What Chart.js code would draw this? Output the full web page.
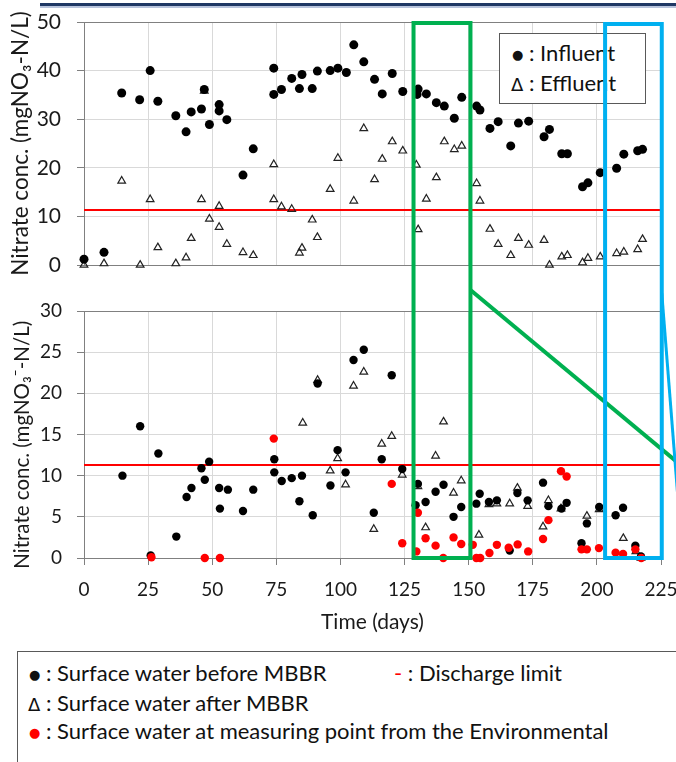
<!DOCTYPE html>
<html>
<head>
<meta charset="utf-8">
<script src="https://cdn.jsdelivr.net/npm/chart.js@4.4.1/dist/chart.umd.min.js"></script>
<style>
  html, body { margin:0; padding:0; background:#fff; }
  body { width:676px; height:762px; overflow:hidden; position:relative; font-family: Lato, 'DejaVu Sans', sans-serif; color:#111; }
  #hdr { position:absolute; left:40px; top:3px; width:636px; height:3px; background:#1f3864; border-bottom:2px solid #b8c4dc; }
  #topCanvas { position:absolute; left:0; top:0; z-index:1; }
  #botCanvas { position:absolute; left:0; top:290px; z-index:1; }
  #overlay { position:absolute; left:0; top:0; z-index:5; pointer-events:none; }
  #legTop { position:absolute; left:499px; top:33px; width:147px; height:71px; box-sizing:border-box; border:1px solid #595959; background:#fff; z-index:2; }
  #legBot { position:absolute; left:17px; top:651px; width:700px; height:150px; box-sizing:border-box; border:1px solid #595959; background:#fff; z-index:2; }
  .ln { position:absolute; white-space:pre; line-height:30px; height:30px; }
  .bl { font-family:'DejaVu Sans', sans-serif; font-size:13px; vertical-align:2px; }
  .tri { font-family:'DejaVu Sans', sans-serif; }
  .red { color:#ff0000; }
</style>
</head>
<body>
<div id="hdr"></div>
<canvas id="topCanvas" width="676" height="290"></canvas>
<canvas id="botCanvas" width="676" height="350"></canvas>
<div id="legTop">
  <div class="ln" style="left:12px; top:4px; font-size:22px;"><span class="bl">●</span> : Influent</div>
  <div class="ln" style="left:11px; top:34px; font-size:22px;"><span class="tri" style="font-size:18px;">Δ</span> : Effluent</div>
</div>
<div id="legBot">
  <div class="ln" style="left:11px; top:6px; font-size:22px;"><span class="bl">●</span> : Surface water before MBBR</div>
  <div class="ln" style="left:376px; top:6px; font-size:22px;"><span class="red">-</span> : Discharge limit</div>
  <div class="ln" style="left:10px; top:36px; font-size:22px;"><span class="tri" style="font-size:18px;">Δ</span> : Surface water after MBBR</div>
  <div class="ln" style="left:11px; top:64px; font-size:22px;"><span class="bl red">●</span> : Surface water at measuring point from the Environmental</div>
</div>
<canvas id="overlay" width="676" height="762"></canvas>
<script>
// ---------- DATA ----------
const X_TICKS_STEP = 25;
const X_MIN = 0, X_MAX = 225;
const LIMIT = 11.3; // discharge limit (mgNO3-N/L)

// Top panel: influent / effluent
const INF_DAY = [0,7.8,14.7,21.7,25.8,28.8,35.8,39.8,41.8,45.8,46.9,48.9,52.7,52.7,55.7,62,66,74,74,77,81,84,85,89,91,96,99,102.3,105.2,109.1,113.3,116.3,120.2,124.3,129.9,130.3,133.5,137.4,140.5,144.4,147.3,153.1,154.4,158.3,161.5,166.4,169.4,173.4,179.4,181.5,186.3,188.5,194.4,196.5,201.3,207.7,210.5,215.9,217.8];
const INF_VAL = [1.2,2.6,35.4,34.0,40.0,33.7,30.7,27.4,31.5,32.1,36.1,28.9,33.0,31.7,29.9,18.5,23.9,40.5,35.1,36.1,38.4,36.3,39.2,36.3,39.9,40.0,40.5,39.6,45.3,41.8,38.2,35.2,39.4,35.7,35.1,36.2,35.2,33.4,32.7,30.2,34.5,32.7,31.9,28.1,29.5,24.5,29.2,29.6,26.4,27.9,22.9,22.9,16.1,16.9,19.0,19.9,22.8,23.5,23.8];
const EFF_DAY = [0,7.8,14.7,21.9,25.8,28.8,35.8,39.8,41.8,45.8,46.9,48.9,52.7,52.7,55.7,62,66,74,74,77,81,84,85,89,91,96,99,105.2,109.1,113.3,116.3,120.2,124.3,129.6,130.3,133.5,137.4,140.5,144.4,147.3,153.1,154.4,158.3,161.5,166.4,169.4,173.4,179.4,181.5,186.3,188.5,194.4,196.5,201.3,207.7,210.5,215.9,217.8];
const EFF_VAL = [0,0.3,17.3,0,13.5,3.6,0.3,1.5,5.5,13.5,35.8,9.5,12.1,7.8,4.3,2.6,2.0,20.7,13.5,12.0,11.5,2.5,3.5,9.3,5.7,15.6,22.0,13.2,28.1,17.6,21.8,25.4,23.5,20.6,7.3,13.6,18.0,25.4,23.8,24.5,16.8,13.2,7.4,4.3,2.0,5.5,4.1,5.1,0,1.7,2.0,0.5,1.4,1.7,2.4,2.7,3.2,5.3];

// Bottom panel: surface water before / after MBBR, and environmental measuring point
const BEF_DAY = [15,21.9,26,29,36,40,41.9,45.8,47.1,48.8,52.7,53,56.1,62,66,74.2,74.2,77.1,81,84,85,89.2,91.1,96.1,98.9,102,105.1,109.1,113,116.1,120,124.1,129.3,130.2,133.2,137.1,140.2,144.1,147.1,153,154.3,157.9,161,166,169,173,179,181.1,186.2,188.2,194,196.1,200.9,207.3,210.2,215,217.2];
const BEF_VAL = [10.0,16.0,0.3,12.7,2.6,7.4,8.5,10.9,9.5,11.7,8.5,6.0,8.3,5.7,8.3,12.0,10.4,9.35,9.7,6.9,10.0,5.2,21.2,8.8,13.1,10.4,24.05,25.3,5.5,12.0,22.2,10.8,6.4,9.0,6.8,8.05,8.9,5.0,6.2,6.6,7.8,6.8,7.0,0.9,7.9,7.0,9.15,6.3,6.0,6.7,1.8,4.2,6.2,5.2,6.1,1.5,0.2];
const AFT_DAY = [85.3,91.1,96,98.9,102,105.1,109.1,113,116.1,120,124.1,130.2,133.2,137.1,140.2,144.1,147.1,154,157.9,161,166,169,173,179,181.1,186,196.1,200.9,210.3,215.2,217.2];
const AFT_VAL = [16.4,21.6,10.6,12.1,8.9,20.9,22.6,3.5,13.85,14.8,10.1,8.7,3.7,12.4,16.55,7.9,9.4,2.8,6.5,6.6,6.6,8.5,6.3,3.8,7.0,6.0,5.1,5.9,2.4,0.8,0];
const ENV_DAY = [26.3,47.1,53,74,120,124.1,129.6,130.2,133.2,137.1,140.1,144.1,147.1,151.6,153,154.5,158.1,161,165.6,169.1,173.2,179,181.1,186,188.2,194,196.1,200.8,207.3,210.2,215,217.3];
const ENV_VAL = [0.1,0,0,14.5,9.0,1.8,0.8,5.5,2.4,1.5,0,2.5,1.7,1.6,0,0,0.6,1.6,1.25,1.65,0.8,2.3,4.6,10.55,9.9,1.05,1.05,1.2,0.65,0.5,1.05,0];

// Highlighted periods (days)
const GREEN_SPAN = [128.5, 150.7];
const BLUE_SPAN = [203.2, 225.3];

// ---------- CHARTS ----------
Chart.defaults.font.family = "Lato, 'DejaVu Sans', sans-serif";
Chart.defaults.color = '#1a1a1a';
const AXIS = '#808080', GRID = '#d9d9d9';
const pts = (xs, ys) => xs.map((x, i) => ({ x: x, y: ys[i] }));
const limitLine = () => ({ type:'line', label:'Discharge limit', data:[{x:X_MIN,y:LIMIT},{x:X_MAX,y:LIMIT}], borderColor:'#ff0000', borderWidth:2, pointRadius:0, clip:false, order:10 });

const topChart = new Chart(document.getElementById('topCanvas'), {
  type:'scatter',
  data:{ datasets:[
    { label:'Influent', data:pts(INF_DAY, INF_VAL), pointStyle:'circle', pointRadius:4.5, backgroundColor:'#000', borderColor:'#000', borderWidth:0, clip:false, order:1 },
    { label:'Effluent', data:pts(EFF_DAY, EFF_VAL), pointStyle:'triangle', pointRadius:4.4, backgroundColor:'rgba(255,255,255,0)', borderColor:'#222', borderWidth:1.2, clip:false, order:2 },
    limitLine()
  ]},
  options:{
    responsive:false, animation:false, events:[],
    layout:{ padding:{ top:22, right:15, bottom:0, left:0 } },
    plugins:{ legend:{display:false}, tooltip:{enabled:false} },
    scales:{
      x:{ type:'linear', min:X_MIN, max:X_MAX,
          ticks:{ display:false, stepSize:X_TICKS_STEP },
          grid:{ color:c => (c.tick && c.tick.value === 0) ? AXIS : GRID, drawTicks:false },
          border:{ color:AXIS, width:1 },
          afterFit(s){ s.height = 25; s.paddingLeft = 0; s.paddingRight = 0; } },
      y:{ min:0, max:50,
          ticks:{ stepSize:10, padding:16, font:{size:21}, color:'#1a1a1a' },
          grid:{ color:c => (c.tick && (c.tick.value === 50 || c.tick.value === 0)) ? AXIS : GRID, tickColor:AXIS, tickLength:7 },
          border:{ color:AXIS, width:1 },
          title:{ display:true, text:'Nitrate conc. (mgNO₃-N/L)', font:{size:22.5}, color:'#1a1a1a', padding:{top:7, bottom:0} },
          afterFit(s){ s.width = 84; s.paddingTop = 0; s.paddingBottom = 0; } }
    }
  }
});

const botChart = new Chart(document.getElementById('botCanvas'), {
  type:'scatter',
  data:{ datasets:[
    { label:'Surface water at measuring point from the Environmental', data:pts(ENV_DAY, ENV_VAL), pointStyle:'circle', pointRadius:4.2, backgroundColor:'#ff0000', borderColor:'#ff0000', borderWidth:0, clip:false, order:0 },
    { label:'Surface water before MBBR', data:pts(BEF_DAY, BEF_VAL), pointStyle:'circle', pointRadius:4.2, backgroundColor:'#000', borderColor:'#000', borderWidth:0, clip:false, order:1 },
    { label:'Surface water after MBBR', data:pts(AFT_DAY, AFT_VAL), pointStyle:'triangle', pointRadius:4.4, backgroundColor:'rgba(255,255,255,0)', borderColor:'#222', borderWidth:1.2, clip:false, order:2 },
    limitLine()
  ]},
  options:{
    responsive:false, animation:false, events:[],
    layout:{ padding:{ top:21, right:15, bottom:0, left:0 } },
    plugins:{ legend:{display:false}, tooltip:{enabled:false} },
    scales:{
      x:{ type:'linear', min:X_MIN, max:X_MAX,
          ticks:{ stepSize:X_TICKS_STEP, padding:13, font:{size:19}, color:'#1a1a1a', maxRotation:0 },
          grid:{ color:c => (c.tick && c.tick.value === 0) ? AXIS : GRID, tickColor:AXIS, tickLength:7 },
          border:{ color:AXIS, width:1 },
          title:{ display:true, text:'Time (days)', font:{size:21}, color:'#1a1a1a', padding:{top:0, bottom:5} },
          afterFit(s){ s.height = 82; s.paddingLeft = 0; s.paddingRight = 0; } },
      y:{ min:0, max:30,
          ticks:{ stepSize:5, padding:15, font:{size:19}, color:'#1a1a1a' },
          grid:{ color:c => (c.tick && (c.tick.value === 30 || c.tick.value === 0)) ? AXIS : GRID, tickColor:AXIS, tickLength:7 },
          border:{ color:AXIS, width:1 },
          title:{ display:true, text:'Nitrate conc. (mgNO₃⁻-N/L)\u2002\u2002', font:{size:20.5}, color:'#1a1a1a', padding:{top:10, bottom:0} },
          afterFit(s){ s.width = 84; s.paddingTop = 0; s.paddingBottom = 0; } }
    }
  }
});

// ---------- OVERLAY: highlighted periods and connector lines ----------
(function drawOverlay(){
  const ctx = document.getElementById('overlay').getContext('2d');
  const botTop = 290;
  const xs = topChart.scales.x;
  const top = topChart.chartArea.top;
  const bottom = botTop + botChart.chartArea.bottom;
  function box(span, color, dy){
    const x1 = xs.getPixelForValue(span[0]), x2 = xs.getPixelForValue(span[1]);
    ctx.strokeStyle = color; ctx.lineWidth = 4;
    ctx.strokeRect(x1, top + dy, x2 - x1, bottom - top - dy);
    return x2;
  }
  function connector(x0, y0, slope, color, w){
    ctx.strokeStyle = color; ctx.lineWidth = w;
    ctx.beginPath(); ctx.moveTo(x0, y0); ctx.lineTo(700, y0 + slope * (700 - x0)); ctx.stroke();
  }
  ctx.lineJoin = 'miter';
  const gx = box(GREEN_SPAN, '#00b050', 1);
  connector(gx, botTop, 0.833, '#00b050', 4);
  const bx = box(BLUE_SPAN, '#00b0f0', 2);
  connector(bx, botTop + 3, 12.7, '#00b0f0', 3);
})();
</script>
</body>
</html>
